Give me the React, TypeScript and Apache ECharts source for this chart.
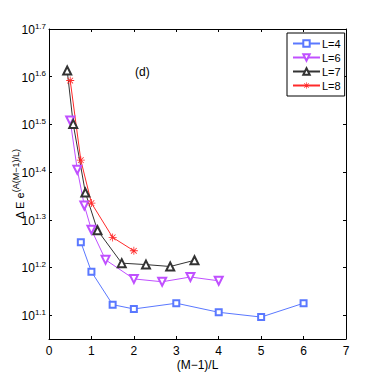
import React, { useEffect, useRef } from "react";
import * as echarts from "echarts";

// x = (M-1)/L, y = log10(ΔE e^{A(M-1)/L})
const xL4 = [0.75, 1.0, 1.5, 2.0, 3.0, 4.0, 5.0, 6.0];
const yL4 = [1.253, 1.191, 1.122, 1.113, 1.125, 1.106, 1.096, 1.125];

const xL6 = [0.5, 0.667, 0.833, 1.0, 1.333, 2.0, 2.667, 3.333, 4.0];
const yL6 = [1.508, 1.405, 1.33, 1.279, 1.216, 1.176, 1.17, 1.18, 1.172];

const xL7 = [0.429, 0.571, 0.857, 1.143, 1.714, 2.286, 2.857, 3.429];
const yL7 = [1.613, 1.501, 1.357, 1.278, 1.209, 1.206, 1.202, 1.215];

const xL8 = [0.5, 0.75, 1.0, 1.5, 2.0];
const yL8 = [1.592, 1.425, 1.335, 1.263, 1.235];

const yTickExps = [1.1, 1.2, 1.3, 1.4, 1.5, 1.6, 1.7];

const seriesNames = ["L=4", "L=6", "L=7", "L=8"];

const ASTERISK =
  "path://M0 9 H20 V11 H0 Z M9 0 H11 V20 H9 Z M3.6 2.2 L17.8 16.4 L16.4 17.8 L2.2 3.6 Z M16.4 2.2 L17.8 3.6 L3.6 17.8 L2.2 16.4 Z";

const FONT = "Liberation Sans";

export default function App() {
  const ref = useRef<HTMLDivElement>(null);
  useEffect(() => {
    if (!ref.current) return;
    const chart = echarts.init(ref.current, null, { renderer: "svg" });
    const pair = (xs: number[], ys: number[]) => xs.map((x, i) => [x, ys[i]]);
    const lineSeries = (
      name: string,
      data: number[][],
      color: string,
      symbol: string,
      size: number,
      rotate = 0,
      border = 1
    ) => ({
      name,
      type: "line",
      data,
      symbol,
      symbolSize: size,
      symbolRotate: rotate,
      showAllSymbol: true,
      lineStyle: { color, width: 1 },
      itemStyle: { color, borderColor: color, borderWidth: border },
      emphasis: { disabled: true },
      z: 3,
    });
    const yLabel = (v: number) => {
      const e = Math.round(v * 10) / 10;
      return "{b|10}{s|" + e.toFixed(1) + "}";
    };
    chart.setOption({
      animation: false,
      backgroundColor: "#ffffff",
      textStyle: { fontFamily: FONT },
      grid: {
        left: 49,
        right: 36,
        top: 29,
        bottom: 43,
        containLabel: false,
        outerBoundsMode: "none",
      },
      legend: {
        orient: "vertical",
        left: 287,
        top: 33,
        data: seriesNames,
        itemWidth: 27,
        itemHeight: 8,
        itemGap: 3,
        padding: [5, 4, 5, 5],
        borderColor: "#000",
        borderWidth: 1,
        borderRadius: 0,
        backgroundColor: "#fff",
        textStyle: { fontFamily: FONT, fontSize: 11, color: "#000", padding: [0, 0, 0, -3] },
        selectedMode: false,
      },
      xAxis: [
        {
          type: "value",
          min: 0,
          max: 7,
          interval: 1,
          position: "bottom",
          axisLine: { show: true, onZero: false, lineStyle: { color: "#000", width: 1 } },
          axisTick: { show: true, inside: true, length: 3, lineStyle: { color: "#000" } },
          axisLabel: { color: "#000", fontSize: 12, margin: 6, fontFamily: FONT },
          splitLine: { show: false },
          name: "(M\u22121)/L",
          nameLocation: "middle",
          nameGap: 20,
          nameMoveOverlap: false,
          nameTextStyle: { color: "#000", fontSize: 12, fontFamily: FONT },
        },
        {
          type: "value",
          min: 0,
          max: 7,
          interval: 1,
          position: "top",
          axisLine: { show: true, onZero: false, lineStyle: { color: "#000", width: 1 } },
          axisTick: { show: true, inside: true, length: 3, lineStyle: { color: "#000" } },
          axisLabel: { show: false },
          splitLine: { show: false },
        },
      ],
      yAxis: [
        {
          type: "value",
          min: 1.05,
          max: 1.7,
          position: "left",
          axisLine: { show: true, onZero: false, lineStyle: { color: "#000", width: 1 } },
          axisTick: {
            show: true,
            inside: true,
            length: 3,
            lineStyle: { color: "#000" },
            customValues: yTickExps,
          },
          axisLabel: {
            customValues: yTickExps,
            formatter: yLabel,
            margin: 3,
            color: "#000",
            rich: {
              b: { fontSize: 12, fontFamily: FONT, color: "#000", lineHeight: 14, verticalAlign: "bottom" },
              s: { fontSize: 8, fontFamily: FONT, color: "#000", lineHeight: 14, verticalAlign: "top", padding: [0, 0, 6, 0] },
            },
          },
          splitLine: { show: false },
          name: "{t|\u0394 E e}{u|(A(M\u22121)/L)}",
          nameLocation: "middle",
          nameRotate: 90,
          nameGap: 24,
          nameMoveOverlap: false,
          nameTextStyle: {
            color: "#000",
            rich: {
              t: { fontSize: 11, fontFamily: FONT, color: "#000", lineHeight: 14, verticalAlign: "bottom" },
              u: { fontSize: 9, fontFamily: FONT, color: "#000", lineHeight: 14, verticalAlign: "top", padding: [0, 0, 6, 0] },
            },
          },
        },
        {
          type: "value",
          min: 1.05,
          max: 1.7,
          position: "right",
          axisLine: { show: true, onZero: false, lineStyle: { color: "#000", width: 1 } },
          axisTick: {
            show: true,
            inside: true,
            length: 3,
            lineStyle: { color: "#000" },
            customValues: yTickExps,
          },
          axisLabel: { show: false, customValues: yTickExps },
          splitLine: { show: false },
        },
      ],
      graphic: [
        {
          type: "text",
          left: 135,
          top: 66,
          style: { text: "(d)", fontSize: 12, fontFamily: FONT, fill: "#000" },
        },
      ],
      series: [
        lineSeries(seriesNames[0], pair(xL4, yL4), "#5a78ff", "emptyRect", 6),
        lineSeries(seriesNames[1], pair(xL6, yL6), "#c050ff", "emptyTriangle", 8, 180),
        lineSeries(seriesNames[2], pair(xL7, yL7), "#333333", "emptyTriangle", 8),
        lineSeries(seriesNames[3], pair(xL8, yL8), "#ff2a2a", ASTERISK, 8, 0, 0),
      ],
    });
    return () => chart.dispose();
  }, []);
  return (
    <div
      ref={ref}
      style={{ position: "fixed", left: 0, top: 0, width: 382, height: 382, background: "#fff" }}
    />
  );
}
